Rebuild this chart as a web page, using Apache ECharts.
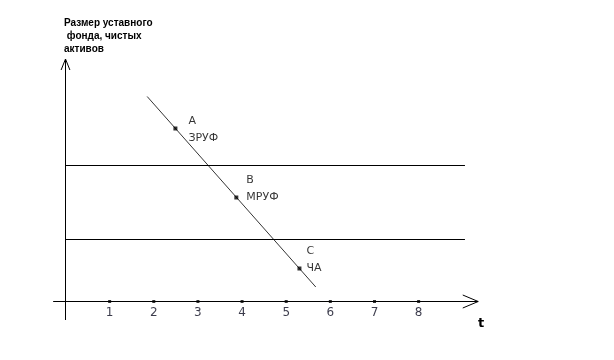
<!DOCTYPE html>
<html><head><meta charset="utf-8">
<script src="https://cdn.jsdelivr.net/npm/echarts@6/dist/echarts.min.js"></script>
<style>html,body{margin:0;padding:0;background:#fff}#c{width:614px;height:360px}</style>
</head><body><div id="c"></div>
<script>
// ---- data ----
var tickLabels = [1, 2, 3, 4, 5, 6, 7, 8];
var levelLines = [13.6, 6.2];            // two horizontal levels
var levelRange = [0, 9.05];              // t extent of horizontal levels
var diagLine = [[1.85, 20.5], [5.67, 1.45]];
var pointNames = ['A', 'B', 'C'];
var pointLabels = ['ЗРУФ', 'МРУФ', 'ЧА'];
var pointT = [2.49, 3.87, 5.30];
var pointV = [17.3, 10.4, 3.3];
var xAxisRange = [-0.28, 9.35];
var yAxisRange = [-1.85, 24.25];
var yTitle = 'Размер уставного\n фонда, чистых\nактивов';
var xTitle = 't';

var chart = echarts.init(document.getElementById('c'), null, {renderer: 'canvas'});
function seg(data, w) {
  return {type: 'line', data: data, symbol: 'none', silent: true, animation: false,
    lineStyle: {color: '#000', width: w || 1}};
}
var series = [];
// axes
series.push(seg([[xAxisRange[0], 0], [xAxisRange[1], 0]]));
series.push(seg([[0, yAxisRange[0]], [0, yAxisRange[1]]]));
// arrow heads
series.push(seg([[9.0, 0.65], [xAxisRange[1], 0], [9.0, -0.65]]));
series.push(seg([[-0.1, 23.15], [0, yAxisRange[1]], [0.1, 23.15]]));
// levels
levelLines.forEach(function (v) { series.push(seg([[levelRange[0], v], [levelRange[1], v]])); });
// diagonal
series.push(seg(diagLine, 0.8));
// ticks
series.push({type: 'scatter', symbol: 'rect', symbolSize: 3, animation: false,
  itemStyle: {color: '#000'},
  data: tickLabels.map(function (t) { return [t, 0]; }),
  label: {show: true, position: 'bottom', distance: 4, color: '#0a0a1e',
    fontFamily: 'DejaVu Sans', fontSize: 12,
    formatter: function (p) { return String(tickLabels[p.dataIndex]); }}
});
// points
var offs = [[9, 1], [6, -9], [3, -9]];
series.push({type: 'scatter', symbol: 'rect', symbolSize: 4, animation: false,
  itemStyle: {color: '#000'},
  data: pointT.map(function (t, i) {
    return {value: [t, pointV[i]], label: {offset: offs[i]}};
  }),
  label: {show: true, position: 'right', distance: 2, color: '#000',
    fontFamily: 'DejaVu Sans', fontSize: 11, lineHeight: 17, align: 'left',
    formatter: function (p) { return pointNames[p.dataIndex] + '\n' + pointLabels[p.dataIndex]; }}
});

chart.setOption({
  animation: false,
  title: [
    {text: yTitle, left: 64, top: 17, padding: 0,
      textStyle: {fontFamily: 'Liberation Sans', fontSize: 10, fontWeight: 'bold', color: '#000', lineHeight: 13}},
    {text: xTitle, left: 478, top: 317, padding: 0,
      textStyle: {fontFamily: 'DejaVu Sans', fontSize: 13, fontWeight: 'bold', color: '#000'}}
  ],
  grid: {left: 43.43, width: 463.47, top: 1.5, height: 330},
  xAxis: {type: 'value', min: -0.5, max: 10, show: false},
  yAxis: {type: 'value', min: -3, max: 30, show: false},
  series: series
});
</script></body></html>
